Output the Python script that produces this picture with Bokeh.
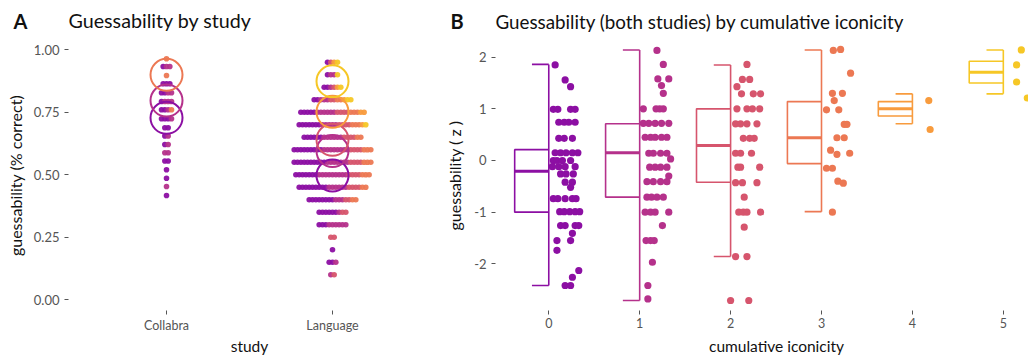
import numpy as np
from bokeh.plotting import figure
from bokeh.layouts import row, column
from bokeh.models import FixedTicker, Range1d, NumeralTickFormatter
from bokeh.core.properties import value
from bokeh.embed import file_html
from bokeh.resources import INLINE

# ---------------- data ----------------
# iconicity colour levels 0..5 (plasma)
PAL = ["#8C0FA3", "#B5318B", "#D6556D", "#EC7853", "#F89B3D", "#F6C726"]
FONT = "Lato"

# Panel A: dot-plot rows (guessability value) and counts per cumulative iconicity level 0..5
studies = ["Collabra", "Language"]
collabra_rows = [0.964, 0.933, 0.897, 0.864, 0.828, 0.793, 0.760, 0.724, 0.688,
                 0.655, 0.621, 0.588, 0.555, 0.520, 0.486, 0.453, 0.417]
collabra_counts = [[0, 0, 0, 1, 0, 0], [1, 2, 0, 0, 0, 0], [0, 0, 0, 1, 0, 0],
                   [3, 0, 0, 0, 0, 0], [2, 2, 0, 0, 0, 0], [1, 3, 0, 0, 0, 0],
                   [2, 1, 0, 1, 0, 0], [3, 1, 0, 0, 0, 0], [2, 0, 0, 0, 0, 0],
                   [1, 1, 0, 0, 0, 0], [1, 1, 0, 0, 0, 0], [0, 2, 0, 0, 0, 0],
                   [2, 0, 0, 0, 0, 0], [1, 0, 0, 0, 0, 0], [1, 0, 0, 0, 0, 0],
                   [0, 1, 0, 0, 0, 0], [1, 0, 0, 0, 0, 0]]
language_rows = [0.95, 0.90, 0.85, 0.80, 0.75, 0.70, 0.65, 0.60, 0.55, 0.50,
                 0.45, 0.40, 0.35, 0.30, 0.25, 0.20, 0.15, 0.10]
language_counts = [[1, 0, 1, 0, 1, 1], [1, 2, 0, 0, 0, 1], [2, 1, 1, 0, 1, 1],
                   [2, 3, 2, 2, 1, 2], [5, 6, 4, 3, 2, 0], [7, 5, 4, 3, 1, 1],
                   [6, 6, 4, 2, 0, 0], [9, 8, 4, 3, 0, 0], [10, 7, 4, 3, 0, 0],
                   [7, 9, 4, 3, 0, 0], [9, 6, 4, 2, 0, 0], [8, 3, 2, 2, 0, 0],
                   [6, 1, 2, 0, 0, 0], [3, 6, 0, 0, 0, 0], [0, 0, 2, 0, 0, 0],
                   [1, 0, 0, 0, 0, 0], [2, 1, 0, 0, 0, 0], [0, 1, 1, 0, 0, 0]]
# group means (open circles)
collabra_mean_levels = [0, 1, 3]
collabra_means = [0.728, 0.797, 0.900]
language_mean_levels = [0, 1, 2, 4, 5]
language_means = [0.497, 0.595, 0.640, 0.752, 0.874]

# Panel B: z-scored guessability by cumulative iconicity (0..5)
levels = [0, 1, 2, 3, 4, 5]
box_lo = [-2.42, -2.71, -1.86, -0.99, 0.71, 1.29]
box_q1 = [-1.00, -0.71, -0.42, -0.06, 0.86, 1.50]
box_med = [-0.21, 0.15, 0.29, 0.44, 1.00, 1.71]
box_q3 = [0.21, 0.71, 1.00, 1.14, 1.14, 1.92]
box_hi = [1.86, 2.14, 1.85, 2.14, 1.29, 2.14]

g0_z = [1.85, 1.56, 1.43, 0.99, 0.99, 0.99, 0.99, 0.74, 0.74, 0.74, 0.74, 0.43, 0.43, 0.43,
        0.15, 0.15, 0.15, 0.15, 0.15, 0.0, 0.0, 0.0, 0.0, -0.12, -0.12, -0.12, -0.12,
        -0.26, -0.26, -0.26, -0.42, -0.42, -0.52, -0.74, -0.74, -0.74, -0.74, -0.74,
        -0.99, -0.99, -0.99, -0.99, -0.99, -1.26, -1.26, -1.26, -1.26, -1.41, -1.55, -1.55,
        -1.74, -2.13, -2.26, -2.42, -2.42]
g0_jit = [.07, .18, .24, .05, .10, .24, .29, .11, .17, .22, .29, .11, .17, .26,
          .07, .13, .19, .26, .32, .05, .09, .15, .24, .04, .11, .18, .29,
          .13, .19, .27, .18, .26, .24, .05, .10, .18, .26, .30,
          .12, .17, .23, .29, .34, .13, .18, .29, .33, .26, .09, .24,
          .09, .33, .26, .18, .24]
g1_z = [2.13, 1.86, 1.58, 1.58, 1.45, 1.30, 1.0, 1.0, 1.0, 1.0, 0.72, 0.72, 0.72, 0.72, 0.72,
        0.45, 0.45, 0.45, 0.45, 0.45, 0.14, 0.14, 0.14, 0.14, 0.03, -0.13, -0.13, -0.13, -0.13,
        -0.41, -0.41, -0.41, -0.41, -0.30, -0.71, -0.71, -0.71, -0.71, -1.0, -1.0, -1.0, -1.0,
        -1.26, -1.55, -1.55, -1.55, -1.97, -2.42, -2.68]
g1_jit = [.19, .26, .20, .32, .24, .26, .04, .18, .22, .26, .04, .10, .17, .24, .32,
          .06, .12, .17, .24, .30, .10, .15, .23, .30, .34, .11, .17, .23, .30,
          .08, .15, .23, .30, .32, .08, .13, .19, .26, .06, .12, .17, .32,
          .25, .07, .12, .16, .14, .09, .09]
g2_z = [1.86, 1.57, 1.57, 1.43, 1.29, 1.29, 1.29, 1.0, 1.0, 1.0, 1.0, 0.71, 0.71, 0.71, 0.71,
        0.43, 0.43, 0.43, 0.14, 0.14, 0.14, -0.13, -0.13, -0.13, -0.43, -0.43, -0.43,
        -0.71, -1.0, -1.0, -1.0, -1.0, -1.29, -1.86, -1.86, -2.71, -2.71]
g2_jit = [.18, .13, .21, .07, .12, .25, .33, .07, .18, .24, .32, .055, .11, .18, .29,
          .14, .21, .26, .055, .11, .23, .08, .11, .32, .055, .13, .29,
          .15, .09, .14, .18, .33, .15, .055, .18, .0, .20]
g3_z = [2.13, 2.15, 1.69, 1.30, 1.30, 1.16, 0.98, 0.98, 0.70, 0.70, 0.44, 0.44, 0.20, 0.12,
        0.14, -0.15, -0.15, -0.40, -0.44, -1.0]
g3_jit = [.13, .21, .32, .12, .23, .14, .055, .19, .25, .28, .17, .25, .10, .17,
          .31, .055, .12, .18, .24, .12]
g4_z = [1.16, 0.60]
g4_jit = [.18, .195]
g5_z = [2.14, 1.85, 1.52, 1.21]
g5_jit = [.198, .146, .146, .264]
group_z = [g0_z, g1_z, g2_z, g3_z, g4_z, g5_z]
group_jit = [g0_jit, g1_jit, g2_jit, g3_jit, g4_jit, g5_jit]

titles = ["A", "Guessability by study", "B", "Guessability (both studies) by cumulative iconicity"]
x_titles = ["study", "cumulative iconicity"]
y_titles = ["guessability (% correct)", "guessability ( z )"]

# ---------------- layout constants (page pixels) ----------------
PAGE_W, PAGE_H = 1028, 356
TH = 34                  # title strip
FRAME_TOP, FRAME_BOTTOM = 40, 310
PANEL_BOTTOM = 334       # bottom of panel figures
SH = PAGE_H - PANEL_BOTTOM  # x-title strip
A_LEFT, A_RIGHT = 68, 440
B_LEFT, B_RIGHT = 495, 1028


def strip(height, y_top):
    p = figure(title=None, frame_width=PAGE_W, frame_height=height,
               x_range=Range1d(0, PAGE_W), y_range=Range1d(-(y_top + height), -y_top),
               x_axis_type=None, y_axis_type=None, output_backend="svg", toolbar_location=None,
               min_border=0, min_border_left=0, min_border_right=0, min_border_top=0,
               min_border_bottom=0)
    p.outline_line_color = None
    p.xgrid.visible = False
    p.ygrid.visible = False
    return p


def style(p):
    p.outline_line_color = None
    p.xgrid.visible = False
    p.ygrid.visible = False
    p.background_fill_color = "white"
    p.border_fill_color = "white"
    for ax in (p.xaxis[0], p.yaxis[0]):
        ax.axis_line_color = None
        ax.major_tick_line_color = "#555555"
        ax.major_tick_line_width = 1
        ax.major_tick_out = 4
        ax.major_tick_in = 0
        ax.minor_tick_line_color = None
        ax.major_label_text_font = FONT
        ax.major_label_text_color = "#555555"
        ax.axis_label_text_font = FONT
        ax.axis_label_text_font_size = "16px"
        ax.axis_label_text_font_style = "normal"
        ax.axis_label_text_color = "#111111"
    p.xaxis.major_label_text_font_size = "12.5px"
    p.yaxis.major_label_text_font_size = "13px"
    p.xaxis.major_label_standoff = 3
    p.yaxis.major_label_standoff = 5


# ---------------- title strip (text centred vertically on given page y) ----------------
pT = strip(TH, 0)
pT.text(x=[13, 450], y=[-20.5, -20.5], text=[titles[0], titles[2]], text_font=value(FONT),
        text_font_size="20px", text_font_style="bold", text_color="#111111",
        text_baseline="middle", text_align="left")
pT.text(x=[68], y=[-20.3], text=[titles[1]], text_font=value(FONT),
        text_font_size="19.7px", text_color="#111111", text_baseline="middle", text_align="left")
pT.text(x=[495], y=[-20.6], text=[titles[3]], text_font=value(FONT),
        text_font_size="18.8px", text_color="#111111", text_baseline="middle", text_align="left")

# ---------------- x-title strip ----------------
pS = strip(SH, PANEL_BOTTOM)
pS.text(x=[249, 776], y=[-344, -344], text=x_titles, text_font=value(FONT),
        text_font_size="15.5px", text_color="#111111", text_baseline="middle", text_align="center")

# ---------------- Panel A ----------------
xa0, xa1 = 0.4096, 2.6506
pA = figure(title=None, frame_width=A_RIGHT - A_LEFT, frame_height=FRAME_BOTTOM - FRAME_TOP,
            x_range=Range1d(xa0, xa1), y_range=Range1d(-0.0428, 1.0372),
            output_backend="svg", toolbar_location=None,
            min_border_left=A_LEFT, min_border_right=0, min_border_top=FRAME_TOP - TH,
            min_border_bottom=PANEL_BOTTOM - FRAME_BOTTOM)
style(pA)
pA.xaxis.ticker = FixedTicker(ticks=[1, 2])
pA.xaxis.major_label_overrides = {1: studies[0], 2: studies[1]}
pA.yaxis.ticker = FixedTicker(ticks=[0, 0.25, 0.5, 0.75, 1.0])
pA.yaxis.formatter = NumeralTickFormatter(format="0.00")
pA.yaxis.axis_label = y_titles[0]
pA.yaxis.axis_label_standoff = 6

px_per_unit_a = (A_RIGHT - A_LEFT) / (xa1 - xa0)
DOT_STEP = 3.33  # pixel spacing of stacked dots


def dots(xc, rows, counts):
    xs, ys, cs = [], [], []
    for v, cnt in zip(rows, counts):
        cols = [PAL[g] for g, n in enumerate(cnt) for _ in range(n)]
        n = len(cols)
        for i, c in enumerate(cols):
            xs.append(xc + (i - (n - 1) / 2) * DOT_STEP / px_per_unit_a)
            ys.append(v)
            cs.append(c)
    return xs, ys, cs


for xc, rws, cnts in [(1, collabra_rows, collabra_counts), (2, language_rows, language_counts)]:
    xs, ys, cs = dots(xc, rws, cnts)
    pA.scatter(xs, ys, size=5.6, fill_color=cs, line_color=None, fill_alpha=0.95)

pA.scatter([1] * len(collabra_means), collabra_means, size=32, fill_color=None,
           line_color=[PAL[g] for g in collabra_mean_levels], line_width=2)
pA.scatter([2] * len(language_means), language_means, size=32, fill_color=None,
           line_color=[PAL[g] for g in language_mean_levels], line_width=2)

# ---------------- Panel B ----------------
pB = figure(title=None, frame_width=B_RIGHT - B_LEFT, frame_height=FRAME_BOTTOM - FRAME_TOP,
            x_range=Range1d(-0.586, 5.277), y_range=Range1d(-2.904, 2.323),
            output_backend="svg", toolbar_location=None,
            min_border_left=B_LEFT - A_RIGHT, min_border_right=0, min_border_top=FRAME_TOP - TH,
            min_border_bottom=PANEL_BOTTOM - FRAME_BOTTOM)
style(pB)
pB.xaxis.ticker = FixedTicker(ticks=levels)
pB.yaxis.ticker = FixedTicker(ticks=[-2, -1, 0, 1, 2])
pB.yaxis.major_label_overrides = {-2: "-2", -1: "-1", 0: "0", 1: "1", 2: "2"}
pB.yaxis.axis_label = y_titles[1]
pB.yaxis.axis_label_standoff = 7

BOX_W = 0.375
CAP_W = 0.185
lx = np.array(levels, dtype=float)
pB.quad(left=lx - BOX_W, right=lx, bottom=box_q1, top=box_q3, fill_color=None,
        line_color=PAL, line_width=1.6)
pB.segment(x0=lx - BOX_W, x1=lx, y0=box_med, y1=box_med, line_color=PAL, line_width=3)
pB.segment(x0=lx, x1=lx, y0=box_q3, y1=box_hi, line_color=PAL, line_width=1.6)
pB.segment(x0=lx, x1=lx, y0=box_lo, y1=box_q1, line_color=PAL, line_width=1.6)
pB.segment(x0=lx - CAP_W, x1=lx, y0=box_hi, y1=box_hi, line_color=PAL, line_width=1.6)
pB.segment(x0=lx - CAP_W, x1=lx, y0=box_lo, y1=box_lo, line_color=PAL, line_width=1.6)

for g, zs, js in zip(levels, group_z, group_jit):
    pB.scatter([g + j for j in js], zs, size=7.2, fill_color=PAL[g], line_color=None)

layout = column(pT, row(pA, pB), pS)
open("out.html", "w").write(file_html(layout, INLINE))
